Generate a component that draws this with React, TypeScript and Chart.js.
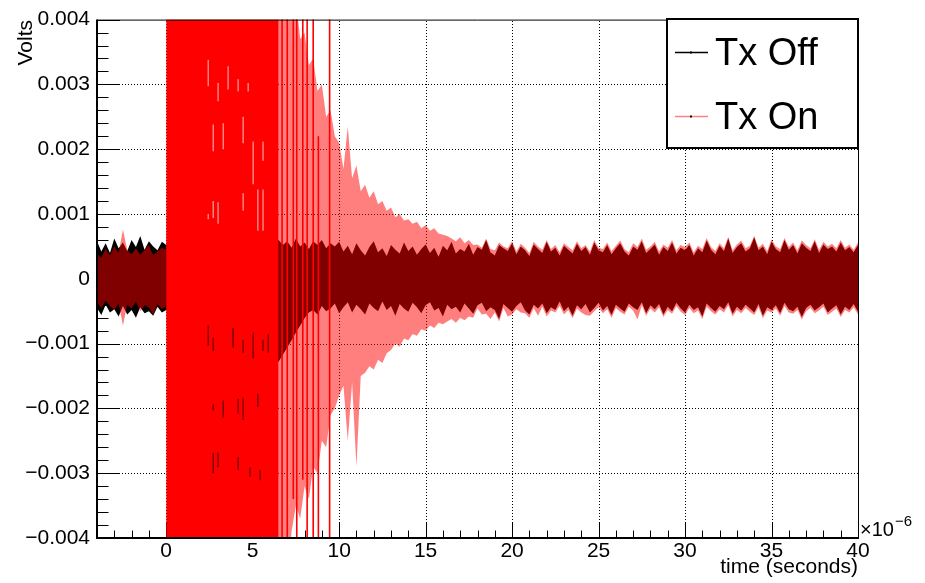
import { useEffect, useRef } from 'react';
import { Chart, registerables } from 'chart.js';

Chart.register(...registerables);

// ---- data (voltages in millivolts, time in microseconds) ----
const SERIES_NAMES = ['Tx Off', 'Tx On'];
const X_TICKS = [0, 5, 10, 15, 20, 25, 30, 35, 40];
const Y_TICKS = [-4, -3, -2, -1, 0, 1, 2, 3, 4];

// scope record sampled every 0.25 us starting at -4 us
const SAMPLE_START = -4;
const SAMPLE_STEP = 0.25;

// upper / lower envelopes of each trace
const TX_OFF_HI = [
  0.58, 0.42, 0.55, 0.40, 0.62, 0.47, 0.56, 0.43, 0.60, 0.49, 0.66, 0.45, 0.58, 0.50, 0.44, 0.57,
  0.52,
  0.55, 0.48, 0.60, 0.52, 0.57, 0.46, 0.58, 0.50, 0.62, 0.47, 0.55, 0.51, 0.59, 0.45, 0.56, 0.49,
  0.61, 0.53, 0.48, 0.57, 0.50, 0.60, 0.46, 0.54, 0.58,
  0.60, 0.52, 0.58, 0.48, 0.62, 0.50, 0.56, 0.46, 0.58, 0.52, 0.60, 0.47, 0.55, 0.50, 0.57,
  0.42, 0.51, 0.38, 0.55, 0.44, 0.36, 0.49, 0.58, 0.41, 0.47,
  0.35, 0.52, 0.45, 0.39, 0.56, 0.43, 0.50, 0.37, 0.46, 0.53,
  0.40, 0.48, 0.34, 0.51, 0.44, 0.57, 0.39, 0.46, 0.42, 0.54,
  0.37, 0.49, 0.45, 0.60, 0.41, 0.36, 0.52, 0.47, 0.43, 0.55,
  0.38, 0.50, 0.44, 0.35, 0.53, 0.46, 0.40, 0.57, 0.42, 0.48,
  0.36, 0.51, 0.45, 0.39, 0.54, 0.43, 0.49, 0.37, 0.56, 0.44,
  0.41, 0.52, 0.38, 0.47, 0.55, 0.42, 0.36, 0.50, 0.45, 0.58,
  0.40, 0.46, 0.53, 0.37, 0.49, 0.43, 0.56, 0.39, 0.48, 0.44,
  0.52, 0.36, 0.47, 0.41, 0.59, 0.45, 0.38, 0.51, 0.43, 0.62,
  0.40, 0.49, 0.55, 0.42, 0.47, 0.64, 0.44, 0.50, 0.38, 0.57,
  0.46, 0.41, 0.60, 0.45, 0.52, 0.39, 0.55, 0.48, 0.43, 0.58,
  0.40, 0.53, 0.46, 0.50, 0.42, 0.56, 0.44, 0.49, 0.41, 0.52,
];

const TX_OFF_LO = [
  -0.45, -0.56, -0.40, -0.52, -0.47, -0.58, -0.42, -0.55, -0.48, -0.60, -0.44, -0.53, -0.50, -0.57, -0.43, -0.52,
  -0.48,
  -0.50, -0.62, -0.55, -0.70, -0.58, -0.66, -0.52, -0.75, -0.60, -0.68, -0.80, -0.64, -0.85, -0.72, -0.90, -0.78,
  -0.95, -0.88, -1.02, -0.96, -1.10, -1.05, -1.18, -1.12, -1.25,
  -1.28, -1.17, -1.06, -0.95, -0.83, -0.72, -0.61, -0.52, -0.48, -0.55, -0.42, -0.50, -0.46, -0.38, -0.53,
  -0.44, -0.36, -0.52, -0.40, -0.47, -0.55, -0.38, -0.45, -0.50, -0.35,
  -0.48, -0.42, -0.57, -0.39, -0.46, -0.51, -0.37, -0.44, -0.53, -0.41,
  -0.36, -0.49, -0.45, -0.58, -0.40, -0.47, -0.43, -0.52, -0.38, -0.46,
  -0.54, -0.41, -0.37, -0.50, -0.44, -0.48, -0.62, -0.39, -0.45, -0.51,
  -0.42, -0.36, -0.49, -0.55, -0.40, -0.46, -0.38, -0.53, -0.44, -0.48,
  -0.35, -0.50, -0.43, -0.57, -0.41, -0.47, -0.39, -0.52, -0.45, -0.37,
  -0.49, -0.42, -0.56, -0.40, -0.46, -0.51, -0.38, -0.44, -0.48, -0.36,
  -0.53, -0.41, -0.47, -0.39, -0.55, -0.43, -0.50, -0.37, -0.46, -0.52,
  -0.40, -0.48, -0.44, -0.58, -0.38, -0.45, -0.51, -0.42, -0.47, -0.36,
  -0.54, -0.43, -0.49, -0.40, -0.46, -0.52, -0.39, -0.57, -0.44, -0.48,
  -0.41, -0.53, -0.37, -0.47, -0.50, -0.43, -0.59, -0.45, -0.40, -0.49,
  -0.44, -0.38, -0.52, -0.46, -0.41, -0.55, -0.43, -0.48, -0.39, -0.51,
];

const TX_ON_HI = [
  0.38, 0.33, 0.46, 0.36, 0.50, 0.40, 0.76, 0.44, 0.38, 0.47, 0.37, 0.45, 0.52, 0.36, 0.43, 0.48,
  0.45,
  4.6, 4.6, 4.6, 4.6, 4.6, 4.6, 4.6, 4.6, 4.6, 4.6, 4.6, 4.6, 4.6, 4.6, 4.6, 4.6,
  4.6, 4.6, 4.6, 4.6, 4.6, 4.6, 4.6, 4.6, 4.6,
  4.6, 4.6, 4.6, 4.1, 4.3, 3.7, 3.8, 3.3, 3.4, 2.9, 3.0, 2.5, 2.6, 2.2, 2.1,
  1.70, 2.35, 1.55, 1.75, 1.35, 1.45, 1.25, 1.35, 1.15, 1.20,
  1.05, 1.10, 0.95, 1.00, 0.90, 0.92, 0.85, 0.88, 0.78, 0.83,
  0.74, 0.78, 0.70, 0.68, 0.66, 0.62, 0.58, 0.64, 0.55, 0.60,
  0.52, 0.53, 0.48, 0.62, 0.46, 0.44, 0.56, 0.50, 0.47, 0.58,
  0.42, 0.54, 0.48, 0.40, 0.57, 0.50, 0.45, 0.60, 0.46, 0.52,
  0.41, 0.55, 0.49, 0.44, 0.58, 0.47, 0.52, 0.42, 0.60, 0.48,
  0.46, 0.56, 0.43, 0.51, 0.59, 0.46, 0.41, 0.55, 0.49, 0.62,
  0.45, 0.50, 0.57, 0.42, 0.53, 0.48, 0.60, 0.44, 0.52, 0.49,
  0.56, 0.41, 0.51, 0.46, 0.63, 0.49, 0.43, 0.55, 0.47, 0.65,
  0.44, 0.53, 0.59, 0.47, 0.51, 0.66, 0.48, 0.54, 0.43, 0.61,
  0.50, 0.46, 0.63, 0.49, 0.56, 0.44, 0.59, 0.52, 0.47, 0.61,
  0.45, 0.57, 0.50, 0.54, 0.47, 0.60, 0.48, 0.53, 0.45, 0.56,
];

const TX_ON_LO = [
  -0.36, -0.45, -0.34, -0.42, -0.48, -0.38, -0.72, -0.40, -0.46, -0.35, -0.50, -0.41, -0.44, -0.55, -0.39, -0.47,
  -0.42,
  -4.6, -4.6, -4.6, -4.6, -4.6, -4.6, -4.6, -4.6, -4.6, -4.6, -4.6, -4.6, -4.6, -4.6, -4.6, -4.6,
  -4.6, -4.6, -4.6, -4.6, -4.6, -4.6, -4.6, -4.6, -4.6,
  -4.6, -4.6, -4.6, -3.9, -3.5, -3.7, -3.2, -3.4, -2.9, -3.0, -2.5, -2.6, -2.1, -2.0, -1.8,
  -1.65, -2.50, -1.60, -2.90, -1.50, -1.45, -1.35, -1.40, -1.25, -1.30,
  -1.15, -1.10, -1.00, -1.05, -0.92, -0.95, -0.85, -0.88, -0.78, -0.80,
  -0.72, -0.76, -0.68, -0.70, -0.66, -0.62, -0.68, -0.60, -0.64, -0.58,
  -0.60, -0.46, -0.55, -0.54, -0.62, -0.52, -0.66, -0.45, -0.58, -0.55,
  -0.47, -0.52, -0.53, -0.60, -0.45, -0.57, -0.43, -0.58, -0.49, -0.52,
  -0.42, -0.55, -0.48, -0.61, -0.46, -0.52, -0.56, -0.57, -0.50, -0.44,
  -0.53, -0.47, -0.60, -0.45, -0.51, -0.55, -0.43, -0.49, -0.63, -0.41,
  -0.57, -0.46, -0.52, -0.44, -0.59, -0.48, -0.54, -0.42, -0.51, -0.56,
  -0.45, -0.53, -0.49, -0.62, -0.43, -0.50, -0.55, -0.47, -0.52, -0.41,
  -0.58, -0.48, -0.53, -0.45, -0.51, -0.56, -0.44, -0.61, -0.49, -0.52,
  -0.46, -0.57, -0.42, -0.52, -0.54, -0.48, -0.63, -0.50, -0.45, -0.53,
  -0.49, -0.43, -0.56, -0.51, -0.46, -0.59, -0.48, -0.52, -0.44, -0.55,
];

// saturated transmit burst of the Tx On trace
const BURST_TIMES = [0, 6.5];
const BURST_HI = [4.6, 4.6];
const BURST_LO = [-4.6, -4.6];

// isolated full-scale ringing spikes after the burst
const SPIKE_TIMES = [6.7, 7.0, 7.35, 7.55, 7.9, 8.15, 8.5, 8.8, 9.45];
const SPIKE_TOP = [4.6, 4.6, 4.6, 4.6, 4.6, 4.6, 4.6, 2.2, 4.6];
const SPIKE_BOTTOM = [-4.6, -4.6, -3.4, -4.6, -3.1, -4.6, -4.6, -4.6, -4.6];

// short streaks seen inside the burst
const DARK_MARK_TIMES = [2.43, 2.72, 3.87, 4.45, 5.03, 5.6, 5.9, 2.72, 3.3, 4.16, 4.45, 5.3, 2.72, 3.0, 4.16, 4.85, 5.43];
const DARK_MARK_TOP = [-0.72, -0.91, -0.76, -0.95, -0.83, -0.95, -0.85, -1.94, -1.88, -1.85, -1.83, -1.77, -2.69, -2.68, -2.75, -2.91, -2.95];
const DARK_MARK_BOTTOM = [-1.03, -1.11, -1.06, -1.14, -1.23, -1.11, -1.14, -2.03, -2.14, -2.08, -2.18, -1.98, -3.0, -2.91, -2.95, -3.06, -3.11];

const LIGHT_MARK_TIMES = [2.43, 3.0, 3.58, 4.16, 4.74, 2.72, 3.3, 4.45, 5.03, 5.6, 2.43, 2.72, 3.0, 4.45, 5.3, 5.6];
const LIGHT_MARK_TOP = [3.38, 3.02, 3.28, 3.08, 3.02, 2.38, 2.4, 2.5, 2.12, 2.12, 1.0, 1.2, 1.18, 1.32, 1.38, 1.38];
const LIGHT_MARK_BOTTOM = [2.97, 2.74, 2.92, 2.89, 2.89, 1.97, 2.0, 2.09, 1.46, 1.82, 0.92, 0.94, 0.85, 1.05, 0.74, 0.74];

// ---- styling ----
const FONT = '"Liberation Sans", Arial, Helvetica, sans-serif';
const OFF_COLOR = '#000000';
const ON_COLOR = 'rgba(255, 0, 0, 0.5)';
const BURST_COLOR = '#ff0000';

const toPoints = (vals: number[]) =>
  vals.map((v, i) => ({ x: SAMPLE_START + i * SAMPLE_STEP, y: v }));

const toPairs = (times: number[], vals: number[]) => times.map((t, i) => ({ x: t, y: vals[i] }));

const toStrokes = (times: number[], tops: number[], bottoms: number[]) =>
  times.flatMap((t, i) => [
    { x: t, y: tops[i] },
    { x: t, y: bottoms[i] },
    { x: t, y: null as number | null },
  ]);

const formatVolts = (mv: number) => {
  if (Math.abs(mv) < 1e-9) return '0';
  const s = (Math.abs(mv) / 1000).toFixed(3);
  return mv < 0 ? '\u2212' + s : s;
};

// ROOT-like axes: dotted grid, inward ticks, frame, legend box and titles
const rootStyle = {
  id: 'rootStyle',
  beforeDatasetsDraw(chart: any) {
    const { ctx, chartArea: a, scales } = chart;
    const xs = scales.x;
    const ys = scales.y;
    ctx.save();

    // dotted grid at the major ticks
    ctx.fillStyle = '#000';
    X_TICKS.forEach((v) => {
      const px = Math.round(xs.getPixelForValue(v));
      if (px <= a.left + 1 || px >= a.right - 1) return;
      for (let yy = Math.ceil(a.top) + 1; yy < a.bottom; yy += 3) ctx.fillRect(px, yy, 1, 1);
    });
    Y_TICKS.forEach((v) => {
      const py = Math.round(ys.getPixelForValue(v));
      if (py <= a.top + 1 || py >= a.bottom - 1) return;
      for (let xx = Math.ceil(a.left) + 1; xx < a.right; xx += 3) ctx.fillRect(xx, py, 1, 1);
    });

    // inward tick marks
    ctx.strokeStyle = '#000';
    ctx.lineWidth = 1;
    ctx.beginPath();
    for (let k = -20; k <= 20; k++) {
      const py = Math.round(ys.getPixelForValue(k / 5)) + 0.5;
      const len = k % 5 === 0 ? 23 : 11.5;
      ctx.moveTo(a.left, py);
      ctx.lineTo(a.left + len, py);
    }
    for (let t = -4; t <= 40; t++) {
      const px = Math.round(xs.getPixelForValue(t)) + 0.5;
      const len = t % 5 === 0 ? 15.5 : 7.5;
      ctx.moveTo(px, a.bottom);
      ctx.lineTo(px, a.bottom - len);
    }
    ctx.stroke();
    ctx.restore();
  },
  afterDatasetsDraw(chart: any) {
    const { ctx, chartArea: a } = chart;
    ctx.save();
    // frame
    ctx.strokeStyle = '#000';
    ctx.lineWidth = 1;
    ctx.beginPath();
    ctx.moveTo(a.left, a.top + 0.5);
    ctx.lineTo(a.right + 0.5, a.top + 0.5);
    ctx.lineTo(a.right + 0.5, a.bottom);
    ctx.stroke();
    ctx.lineWidth = 2;
    ctx.beginPath();
    ctx.moveTo(a.left, a.top);
    ctx.lineTo(a.left, a.bottom);
    ctx.lineTo(a.right + 1, a.bottom);
    ctx.stroke();

    // legend
    const lx = 667;
    const ly = 19;
    const lw = 191;
    const lh = 129;
    ctx.fillStyle = '#fff';
    ctx.fillRect(lx, ly, lw, lh);
    ctx.lineWidth = 2;
    ctx.strokeStyle = '#000';
    ctx.strokeRect(lx, ly, lw, lh);
    const colors = [OFF_COLOR, ON_COLOR];
    const rows = [52, 116];
    ctx.font = `38px ${FONT}`;
    ctx.textAlign = 'left';
    ctx.textBaseline = 'alphabetic';
    SERIES_NAMES.forEach((name, i) => {
      const yy = rows[i] + 0.5;
      ctx.strokeStyle = colors[i];
      ctx.lineWidth = 1.5;
      ctx.beginPath();
      ctx.moveTo(675, yy);
      ctx.lineTo(708, yy);
      ctx.stroke();
      ctx.fillStyle = '#000';
      ctx.fillRect(690, yy - 1, 2, 2);
      ctx.fillText(name, 715, rows[i] + 13);
    });

    // axis titles
    ctx.fillStyle = '#000';
    ctx.font = `21px ${FONT}`;
    ctx.textAlign = 'right';
    ctx.fillText('time (seconds)', a.right, 573);
    ctx.save();
    ctx.translate(32, 20);
    ctx.rotate(-Math.PI / 2);
    ctx.textAlign = 'right';
    ctx.fillText('Volts', 0, 0);
    ctx.restore();

    // axis multiplier
    ctx.textAlign = 'left';
    ctx.font = `20px ${FONT}`;
    const base = '\u00d710';
    ctx.fillText(base, a.right + 2, 536);
    const bw = ctx.measureText(base).width;
    ctx.font = `15px ${FONT}`;
    ctx.fillText('\u22126', a.right + 3 + bw, 526);
    ctx.restore();
  },
};

export default function App() {
  const canvasRef = useRef<HTMLCanvasElement | null>(null);

  useEffect(() => {
    const canvas = canvasRef.current;
    if (!canvas) return;

    const fillBand = (label: string, hi: any[], lo: any[], color: string, order: number) => [
      {
        label,
        data: hi,
        borderWidth: 0,
        backgroundColor: color,
        fill: '+1',
        pointRadius: 0,
        order,
      },
      {
        label: label + ' (low)',
        data: lo,
        borderWidth: 0,
        backgroundColor: color,
        fill: false,
        pointRadius: 0,
        order,
      },
    ];

    const strokes = (label: string, data: any[], color: string, width: number, order: number) => ({
      label,
      data,
      borderColor: color,
      borderWidth: width,
      fill: false,
      pointRadius: 0,
      spanGaps: false,
      order,
    });

    const datasets: any[] = [
      ...fillBand(SERIES_NAMES[0], toPoints(TX_OFF_HI), toPoints(TX_OFF_LO), OFF_COLOR, 5),
      ...fillBand(SERIES_NAMES[1], toPoints(TX_ON_HI), toPoints(TX_ON_LO), ON_COLOR, 4),
      ...fillBand('burst', toPairs(BURST_TIMES, BURST_HI), toPairs(BURST_TIMES, BURST_LO), BURST_COLOR, 3),
      strokes('spikes', toStrokes(SPIKE_TIMES, SPIKE_TOP, SPIKE_BOTTOM), BURST_COLOR, 1.6, 2),
      strokes('dark streaks', toStrokes(DARK_MARK_TIMES, DARK_MARK_TOP, DARK_MARK_BOTTOM), '#7c0000', 1.4, 1),
      strokes('light streaks', toStrokes(LIGHT_MARK_TIMES, LIGHT_MARK_TOP, LIGHT_MARK_BOTTOM), '#ff8a8a', 1.4, 1),
    ];

    const tickFont = { family: FONT, size: 21 };

    const chart = new Chart(canvas, {
      type: 'line',
      data: { datasets },
      options: {
        animation: false,
        responsive: false,
        devicePixelRatio: 1,
        events: [],
        layout: { padding: { left: 0, top: 18, right: 67, bottom: 0 } },
        elements: { point: { radius: 0 }, line: { tension: 0 } },
        plugins: { legend: { display: false }, tooltip: { enabled: false } },
        scales: {
          x: {
            type: 'linear',
            min: -4,
            max: 40,
            afterBuildTicks: (s: any) => {
              s.ticks = X_TICKS.map((v) => ({ value: v }));
            },
            afterFit: (s: any) => {
              s.height = 45;
            },
            grid: { display: false, drawTicks: false },
            border: { display: false },
            ticks: {
              font: tickFont,
              color: '#000',
              padding: 1,
              maxRotation: 0,
              autoSkip: false,
              callback: (v: any) => String(v),
            },
          },
          y: {
            type: 'linear',
            min: -4,
            max: 4,
            afterBuildTicks: (s: any) => {
              s.ticks = Y_TICKS.map((v) => ({ value: v }));
            },
            afterFit: (s: any) => {
              s.width = 97;
            },
            grid: { display: false, drawTicks: false },
            border: { display: false },
            ticks: {
              font: tickFont,
              color: '#000',
              padding: 7,
              autoSkip: false,
              callback: (v: any) => formatVolts(Number(v)),
            },
          },
        },
      } as any,
      plugins: [rootStyle],
    });

    return () => chart.destroy();
  }, []);

  return (
    <div style={{ position: 'fixed', left: 0, top: 0, width: 925, height: 583, background: '#fff' }}>
      <canvas ref={canvasRef} width={925} height={583} style={{ display: 'block' }} />
    </div>
  );
}
